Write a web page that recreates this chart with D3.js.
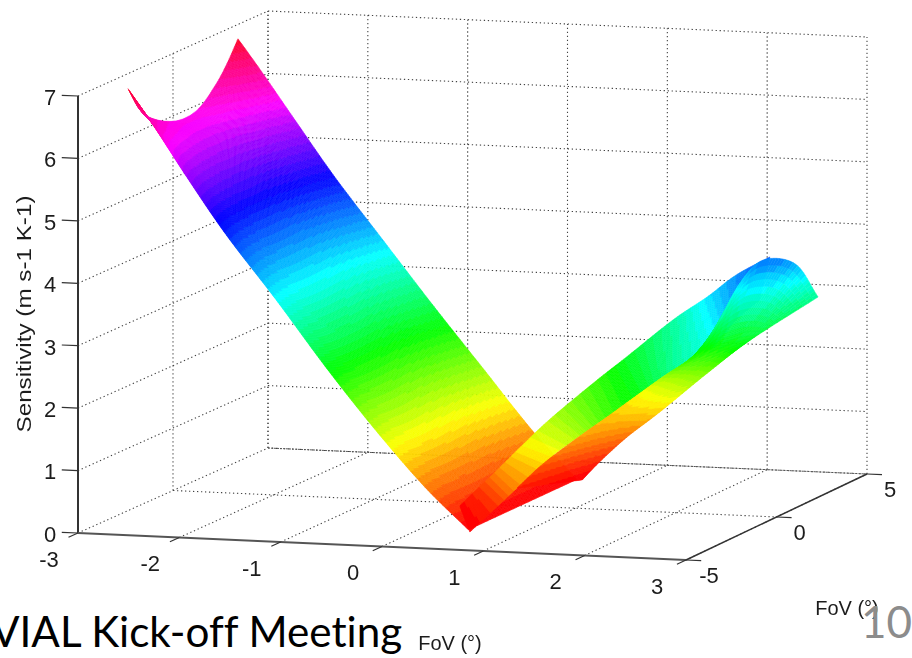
<!DOCTYPE html>
<html>
<head>
<meta charset="utf-8">
<style>
  body { margin: 0; background: #fff; }
  svg { display: block; overflow: hidden; }
  text { font-family: "Liberation Sans", sans-serif; fill: #1c1c1c; }
  svg > g, svg > text.soft { filter: blur(0.35px); }
</style>
</head>
<body>
<div id="chart"></div>
<script src="https://cdn.jsdelivr.net/npm/d3@7"></script>
<script>
// Tick labels
const xTicks = [-3, -2, -1, 0, 1, 2, 3];
const yTicks = [-5, 0, 5];
const zTicks = [0, 1, 2, 3, 4, 5, 6, 7];

// Left arm of the surface: stations along FoV x, y limits per station, z per station and column
const armX = [-3, -2.75, -2.4, -2, -1.5, -1, -0.5, 0, 0.45];
const armYNear = [-2.37, -2.4, -2.45, -2.5, -2.55, -2.55, -2.6, -2.7, -2.8];
const armYFar = [3.42, 3.4, 3.35, 3.3, 3.2, 3.2, 3.15, 3.1, 3.07];
const armCols = [0, 0.1, 0.2, 0.35, 0.5, 0.65, 0.8, 0.9, 1];
const armZ = [
    [6.76, 6.36, 6.14, 5.96, 5.88, 5.94, 6.2, 6.45, 6.77],
    [6.21, 5.93, 5.79, 5.67, 5.62, 5.66, 5.83, 6.02, 6.24],
    [5.39, 5.22, 5.12, 5.05, 5.03, 5.07, 5.2, 5.32, 5.48],
    [4.5, 4.37, 4.3, 4.26, 4.26, 4.29, 4.4, 4.5, 4.62],
    [3.51, 3.43, 3.38, 3.36, 3.37, 3.4, 3.48, 3.56, 3.66],
    [2.45, 2.38, 2.35, 2.34, 2.35, 2.39, 2.48, 2.56, 2.65],
    [1.49, 1.43, 1.4, 1.39, 1.42, 1.46, 1.54, 1.61, 1.7],
    [0.64, 0.59, 0.56, 0.55, 0.56, 0.58, 0.64, 0.69, 0.75],
    [0, 0, 0, 0, 0, 0, 0, 0, 0]
];

// Raised band of the right arm
const bandX = [[0.51, -0.03], [0.63, 0.09], [0.93, 0.4], [1.19, 0.71], [1.53, 0.92], [2.05, 1.28], [2.37, 1.56], [2.83, 1.93], [3.26, 2.46], [3.52, 2.78], [3.59, 3.1]];
const bandY = [[-3.04, -0.64], [-2.24, -0.3], [-2.78, -0.96], [-2.43, -1.39], [-2.83, -0.93], [-3.88, -0.55], [-3.83, -0.28], [-4.77, 0.22], [-5.15, -0.83], [-5.17, -1], [-4.25, -0.92]];
const bandZ = [[0, 0.05], [0.3, 0.3], [0.7, 0.7], [1.15, 1.15], [1.55, 1.55], [2.1, 2.1], [2.5, 2.5], [3, 3.05], [3.4, 3.6], [3.9, 4], [4.1, 4.3]];

// Lower sheet of the right arm, ends in the dome
const sheetX = [
    [0.32, 0.36, 0.39, 0.43, 0.47, 0.51],
    [0.39, 0.43, 0.46, 0.49, 0.53, 0.56],
    [0.56, 0.6, 0.63, 0.67, 0.71, 0.75],
    [0.65, 0.74, 0.84, 0.93, 1.02, 1.11],
    [0.85, 1.03, 1.21, 1.39, 1.57, 1.76],
    [1.45, 1.63, 1.81, 1.99, 2.17, 2.36],
    [2.12, 2.4, 2.49, 2.86, 2.99, 2.75]
];
const sheetY = [
    [0.55, 1.04, 1.54, 2.04, 2.54, 3.04],
    [1.56, 1.99, 2.42, 2.85, 3.28, 3.71],
    [2.5, 2.83, 3.17, 3.5, 3.84, 4.17],
    [3.78, 3.82, 3.86, 3.91, 3.95, 3.99],
    [4.49, 4.2, 3.91, 3.62, 3.33, 3.05],
    [2.87, 2.72, 2.57, 2.41, 2.26, 2.11],
    [1.19, 0.33, 0.82, 0.05, 1.1, 3.68]
];
const sheetZ = [
    [0.2, 0.16, 0.12, 0.08, 0.04, 0],
    [0.45, 0.4, 0.35, 0.3, 0.25, 0.2],
    [0.75, 0.71, 0.67, 0.63, 0.59, 0.55],
    [0.95, 0.96, 0.97, 0.98, 0.99, 1],
    [1.25, 1.36, 1.47, 1.58, 1.69, 1.8],
    [1.85, 1.98, 2.11, 2.24, 2.37, 2.5],
    [2.45, 3.1, 3.6, 4.1, 3.9, 3]
];

const width = 912, height = 658;
const svg = d3.select("#chart").append("svg").attr("width", width).attr("height", height);

// Step 1: scales, three axes onto a slightly skewed floor
const xScale = d3.scaleLinear().domain([-3, 3]).range([0, 1]);
const yScale = d3.scaleLinear().domain([-5, 5]).range([0, 1]);
const zScale = d3.scaleLinear().domain([0, 7]).range([0, 437]);
const floor = { a: [78, 533], b: [686, 560], c: [867, 474], d: [268, 448] };

function project(x, y, z) {
    const u = xScale(x), v = yScale(y);
    const at = i => (1 - u) * (1 - v) * floor.a[i] + u * (1 - v) * floor.b[i] + u * v * floor.c[i] + (1 - u) * v * floor.d[i];
    return [at(0), at(1) - zScale(z)];
}

const line = d3.line();

function seg(g, p, q) {
    g.append("path").attr("d", line([project(...p), project(...q)]));
}

// Step 2: dotted grid on the floor and the two back walls
const grid = svg.append("g")
    .attr("fill", "none").attr("stroke", "#444").attr("stroke-width", 1.1).attr("stroke-dasharray", "1.3,2.7");
xTicks.forEach(x => {
    seg(grid, [x, -5, 0], [x, 5, 0]);
    seg(grid, [x, 5, 0], [x, 5, 7]);
});
yTicks.slice(1).forEach(y => {
    seg(grid, [-3, y, 0], [3, y, 0]);
    seg(grid, [-3, y, 0], [-3, y, 7]);
});
zTicks.slice(1).forEach(z => {
    seg(grid, [-3, -5, z], [-3, 5, z]);
    seg(grid, [-3, 5, z], [3, 5, z]);
});
svg.append("g").append("path").attr("d", line([project(-3, 5, 0), project(3, 5, 0)]))
    .attr("fill", "none").attr("stroke", "#555").attr("stroke-width", 1).attr("stroke-dasharray", "2,1");

// Step 3: the surface, 64 step hsv colormap on z, painted back to front
const color = d3.scaleQuantize().domain([0, 6.9])
    .range(d3.range(64).map(i => d3.hsl(i * 360 / 64, 1, 0.5).formatHex()));

const surface = svg.append("g");

function drawPatch(xs, ys, zs, nRow, nCol) {
    // read a grid value, continuing straight past its edges
    const val = (m, i, j) => {
        const lastI = m.length - 1, lastJ = m[0].length - 1;
        if (i < 0) return 2 * val(m, 0, j) - val(m, 1, j);
        if (i > lastI) return 2 * val(m, lastI, j) - val(m, lastI - 1, j);
        if (j < 0) return 2 * m[i][0] - m[i][1];
        if (j > lastJ) return 2 * m[i][lastJ] - m[i][lastJ - 1];
        return m[i][j];
    };
    const cr = (a, b, c, d, t) => 0.5 * (2 * b + (c - a) * t + (2 * a - 5 * b + 4 * c - d) * t * t + (3 * b - a - 3 * c + d) * t * t * t);
    const mix = (m, i, j, s, t) => {
        const across = d3.range(-1, 3).map(k => cr(val(m, i + k, j - 1), val(m, i + k, j), val(m, i + k, j + 1), val(m, i + k, j + 2), t));
        return cr(across[0], across[1], across[2], across[3], s);
    };
    const cells = [];
    for (let i = 0; i < zs.length - 1; i++) {
        for (let j = 0; j < zs[0].length - 1; j++) {
            for (let a = 0; a < nRow; a++) {
                for (let b = 0; b < nCol; b++) {
                    const corners = [[a, b], [a, b + 1], [a + 1, b + 1], [a + 1, b]].map(c => {
                        const s = c[0] / nRow, t = c[1] / nCol;
                        return [mix(xs, i, j, s, t), mix(ys, i, j, s, t), Math.max(0, mix(zs, i, j, s, t))];
                    });
                    cells.push(corners);
                }
            }
        }
    }
    surface.append("g").selectAll("path").data(cells).join("path")
        .attr("d", d => line(d.map(p => project(...p))) + "Z")
        .attr("fill", d => color(d3.mean(d, p => p[2])))
        .attr("stroke", d => color(d3.mean(d, p => p[2])))
        .attr("stroke-width", 0.5);
}

const armXs = armX.map(x => armCols.map(() => x));
const armYs = armX.map((x, i) => armCols.map(c => armYNear[i] + (armYFar[i] - armYNear[i]) * c));

drawPatch(armXs, armYs, armZ, 30, 14);
drawPatch(bandX, bandY, bandZ, 16, 24);
drawPatch(sheetX, sheetY, sheetZ, 14, 12);

// Step 4: axes and ticks
const axes = svg.append("g").attr("fill", "none").attr("stroke", "#333");
axes.append("path").attr("stroke-width", 2).attr("d", line([project(-3, -5, 0), project(-3, -5, 7)]));
axes.append("path").attr("stroke-width", 2).attr("stroke", "#555").attr("d", line([project(-3, -5, 0), project(3, -5, 0)]));
axes.append("path").attr("stroke-width", 1.5).attr("d", line([project(3, -5, 0), project(3, 5, 0)]));
xTicks.forEach(x => axes.append("path").attr("stroke-width", 1.2).attr("d", line([project(x, -5, 0), project(x, -5.5, 0)])));
yTicks.forEach(y => axes.append("path").attr("stroke-width", 1.2).attr("d", line([project(3, y, 0), project(3.15, y, 0)])));
zTicks.forEach(z => axes.append("path").attr("stroke-width", 1.2).attr("d", line([project(-3, -5, z), project(-3.16, -5, z)])));

// Step 5: tick labels
const tickFont = 22;
const labels = svg.append("g").attr("text-anchor", "middle").attr("font-size", tickFont);
labels.append("g").selectAll("text").data(zTicks).join("text")
    .attr("x", d => project(-3, -5, d)[0] - 28).attr("y", d => project(-3, -5, d)[1] + 1)
    .attr("dy", "0.36em").text(d => d);
labels.append("g").selectAll("text").data(xTicks).join("text")
    .attr("x", d => project(d, -5, 0)[0] - 29).attr("y", d => project(d, -5, 0)[1] + 26)
    .attr("dy", "0.36em").text(d => d);
labels.append("g").selectAll("text").data(yTicks).join("text")
    .attr("x", d => project(3, d, 0)[0] + 23).attr("y", d => project(3, d, 0)[1] + 15)
    .attr("dy", "0.36em").text(d => d);

// Step 6: axis titles and the slide text over the picture
svg.append("text").attr("class", "soft").attr("transform", "translate(24,314) rotate(-90)")
    .attr("text-anchor", "middle").attr("dy", "0.35em").attr("font-size", 21)
    .attr("textLength", 237).attr("lengthAdjust", "spacingAndGlyphs")
    .text("Sensitivity (m s-1 K-1)");
svg.append("text").attr("class", "soft").attr("x", 847).attr("y", 608)
    .attr("text-anchor", "middle").attr("dy", "0.35em").attr("font-size", 20).text("FoV (°)");
svg.append("text").attr("class", "soft").attr("x", 450).attr("y", 643)
    .attr("text-anchor", "middle").attr("dy", "0.35em").attr("font-size", 20).text("FoV (°)");
svg.append("text").attr("x", -9).attr("y", 647)
    .attr("font-size", 42.2).style("font-family", "Lato").style("fill", "#000")
    .style("font-variant-ligatures", "none").text("VIAL Kick-off Meeting");
svg.append("text").attr("x", 912).attr("y", 638).attr("text-anchor", "end")
    .attr("font-size", 44).style("font-family", "Lato").style("fill", "#8c8c8c").text("10");
</script>
</body>
</html>
